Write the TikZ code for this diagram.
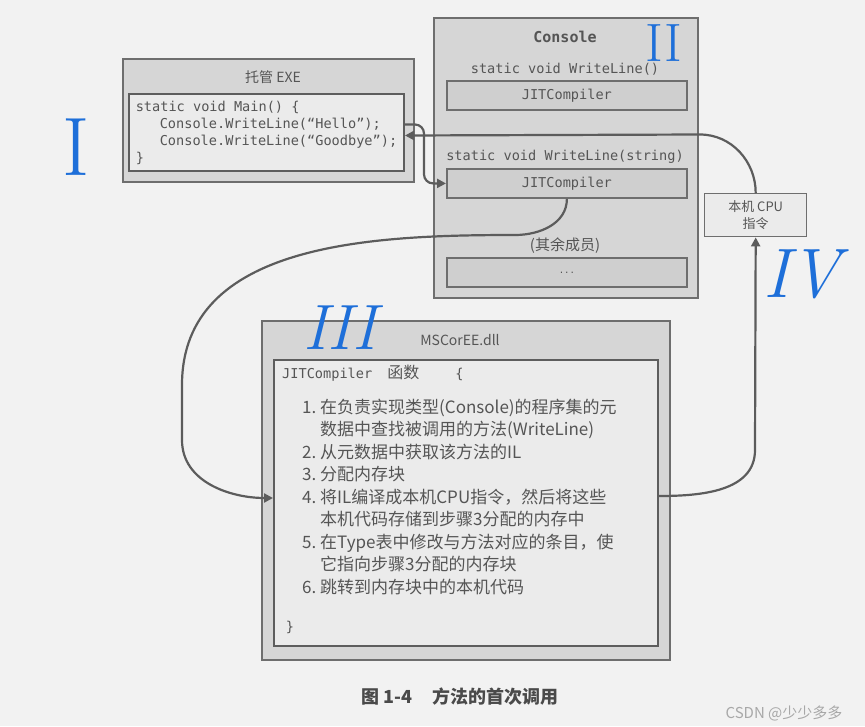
\documentclass[tikz,border=0pt]{standalone}
\usepackage{fontspec}
\setmainfont{Noto Sans CJK SC}
\setmonofont{DejaVu Sans Mono}
\newfontfamily\handfont{Latin Modern Roman}
\usepackage{xcolor}
\usetikzlibrary{arrows.meta,positioning,calc}
\definecolor{paper}{HTML}{F2F2F2}
\definecolor{shell}{HTML}{D6D6D6}
\definecolor{pane}{HTML}{EBEBEB}
\definecolor{slotc}{HTML}{CFCFCF}
\definecolor{edge}{HTML}{6E6E6E}
\definecolor{wirec}{HTML}{5C5C5C}
\definecolor{ink}{HTML}{555555}
\definecolor{capc}{HTML}{4A4A4A}
\definecolor{mark}{HTML}{A8A8A8}
\definecolor{pen}{HTML}{1E6FD9}
\newcommand{\codefont}{\ttfamily\fontsize{13.6}{17}\selectfont}

\begin{document}
\begin{tikzpicture}[x=1pt,y=-1pt,>={Triangle[length=9pt,width=9pt]},
 frame/.style={draw=edge,line width=1.6pt,fill=shell,anchor=north west,inner sep=0pt},
 panel/.style={draw=edge!85!black,line width=2pt,fill=pane,anchor=north west},
 slot/.style={draw=edge,line width=1.8pt,fill=slotc,anchor=north west,inner sep=0pt,
 minimum width=240pt,minimum height=29pt,text=ink,font=\codefont},
 sig/.style={text=ink,font=\codefont},
 head/.style={text=ink,font=\fontsize{14}{16}\selectfont},
 wire/.style={draw=wirec,line width=2.2pt},
 hand/.style={text=pen,inner sep=0pt}]
\path[use as bounding box,fill=paper] (0,0) rectangle (865,726);

% managed exe
\node[frame,minimum width=291pt,minimum height=123pt] (exe) at (122,58) {};
\node[head] (exet) at (273,77) {托管 EXE};
\node[panel,minimum width=275pt,minimum height=77pt,inner xsep=0pt,
 align=left,text=ink,font=\codefont] (main) at (128,93)
 {static void Main() \{\\\hspace*{24pt}Console.WriteLine(“Hello”);\\
 \hspace*{24pt}Console.WriteLine(“Goodbye”);\\\}};

% Console type
\node[frame,minimum width=264pt,minimum height=280pt] (con) at (433,17) {};
\node[text=ink,font=\codefont\bfseries\fontsize{15}{17}\selectfont] (cont) at (565,37) {Console};
\node[sig] (sig1) at (565,69) {static void WriteLine()};
\node[slot] (jit1) at (446,80) {JITCompiler};
\node[sig] (sig2) at (565,157) {static void WriteLine(string)};
\node[slot] (jit2) at (446,168) {JITCompiler};
\node[head,font=\fontsize{15}{17}\selectfont] (rest) at (565,246) {(其余成员)};
\node[slot,font=\ttfamily\fontsize{9}{9}\selectfont] (more) at (446,257) {...};

\node[draw=edge,line width=1.4pt,fill=pane,anchor=north west,minimum width=102pt,
 minimum height=43pt,align=center,text=ink,font=\fontsize{13}{17}\selectfont] (cpu)
 at (704,193) {本机 CPU\\指令};

% MSCorEE
\node[frame,minimum width=408pt,minimum height=339pt] (dll) at (261,320) {};
\node[head] (dllt) at (460,340) {MSCorEE.dll};
\node[panel,minimum width=384pt,minimum height=286pt] (fn) at (273,359) {};
\node[anchor=west,inner sep=0pt,text=ink] (fnhead) at (282,373)
 {{\codefont JITCompiler}\hspace{15pt}{\fontsize{16}{17}\selectfont 函数}\hspace{36pt}{\codefont\{}};
\node[anchor=base west,inner sep=0pt,align=left,text=ink,font=\fontsize{17}{22.5}\selectfont]
 (steps) at (302,593)
 {\makebox[18pt][l]{1.}在负责实现类型(Console)的程序集的元\\
 \hspace*{18pt}数据中查找被调用的方法(WriteLine)\\
 \makebox[18pt][l]{2.}从元数据中获取该方法的IL\\
 \makebox[18pt][l]{3.}分配内存块\\
 \makebox[18pt][l]{4.}将IL编译成本机CPU指令，然后将这些\\
 \hspace*{18pt}本机代码存储到步骤3分配的内存中\\
 \makebox[18pt][l]{5.}在Type表中修改与方法对应的条目，使\\
 \hspace*{18pt}它指向步骤3分配的内存块\\
 \makebox[18pt][l]{6.}跳转到内存块中的本机代码};
\node[sig] (fnend) at (290,627) {\}};

% connectors
\coordinate (back) at (700,134.5);
\coordinate (bendA) at (515,235);
\coordinate (bendB) at (182,385);
\coordinate (bendC) at (182,440);
\coordinate (rise) at (755,450);
\draw[wire,->,rounded corners=9pt] ([yshift=8pt]main.east) -| ($(jit2.west)+(-22,0)$) -- (jit2.west);
\draw[wire,->] (cpu.north) to[out=90,in=0] (back) -- ([yshift=-3pt]main.east);
\draw[wire,->] (jit2.south) to[out=-90,in=0] (bendA) to[out=180,in=90] (bendB)
 -- (bendC) to[out=-90,in=180] ([yshift=5pt]fn.west);
\draw[wire,->] ([yshift=7pt]fn.east) to[out=0,in=-90] (rise) -- (cpu.south);

% pen marks
\node[hand,font=\handfont\fontsize{83}{83}\selectfont] (n1) at (76,147) {I};
\node[hand,font=\handfont\fontsize{54}{54}\selectfont] (n2) at (664,43) {II};
\node[hand,font=\handfont\itshape\fontsize{64}{64}\selectfont] (n3) at (340,328) {III};
\node[hand,font=\handfont\itshape\fontsize{70}{70}\selectfont] (n4) at (802,274) {IV};

% caption
\node[text=capc,font=\bfseries\fontsize{18}{20}\selectfont] (cap) at (460,697) {图 1-4\hspace{20pt}方法的首次调用};
\node[text=mark,font=\fontsize{15}{16}\selectfont] (wm) at (784,713) {CSDN @少少多多};
\end{tikzpicture}
\end{document}
